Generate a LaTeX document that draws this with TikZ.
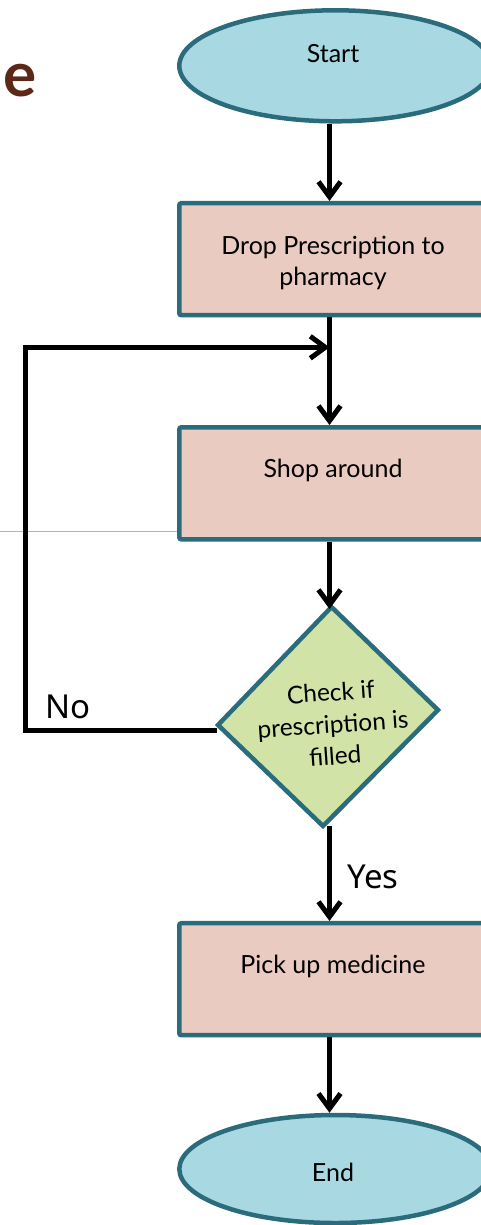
\documentclass[tikz,border=0pt]{standalone}
\usepackage{fontspec}
\setmainfont{Lato}
\newfontfamily\branchfont{Noto Sans}
\usetikzlibrary{arrows.meta,shapes.geometric}

\definecolor{edge}{HTML}{2A6B7C}
\definecolor{termfill}{HTML}{A8D8E2}
\definecolor{procfill}{HTML}{E9CBC1}
\definecolor{decfill}{HTML}{D1E3A7}
\definecolor{titlebrown}{HTML}{5C2818}
\definecolor{guide}{HTML}{8FBDEA}

\begin{document}
\begin{tikzpicture}[x=1pt,y=-1pt,
  terminal/.style={ellipse, draw=edge, fill=termfill, line width=4.5pt,
    minimum width=312pt, minimum height=111pt, inner sep=0pt},
  process/.style={rectangle, rounded corners=2pt, draw=edge, fill=procfill,
    line width=4.5pt, minimum width=312pt, minimum height=112pt, inner sep=0pt},
  decision/.style={draw=edge, fill=decfill, line width=4.5pt, line join=miter},
  txt/.style={font=\fontsize{25}{31.5}\selectfont, anchor=base, inner sep=0pt, align=center},
  branch/.style={font=\branchfont\fontsize{33}{36}\selectfont, anchor=base, inner sep=0pt},
  flow/.style={line width=5pt, -{Straight Barb[length=15pt,width=22pt]}}
]
\useasboundingbox (0,0) rectangle (481,1225);
\clip (0,0) rectangle (481,1225);

% thin guide line of the slide
\draw[guide, line width=1pt] (0,531) -- (180,531);

% heading fragment
\node[anchor=base west, inner sep=0pt, text=titlebrown,
  font=\bfseries\fontsize{62}{66}\selectfont] (title) at (3,97) {e};

% shapes (they run past the right edge and are clipped there)
\node[terminal] (start) at (335.3,65.8) {};
\node[process] (drop) at (335.3,259.2) {};
\node[process] (shop) at (335.3,483.3) {};
\node[process] (pick) at (335.3,979.2) {};
\node[terminal, minimum height=108pt] (end) at (335.3,1169) {};

\coordinate (dtop) at (331.5,607);
\coordinate (dright) at (438,710);
\coordinate (dbottom) at (323,826);
\coordinate (dleft) at (218,725);
\draw[decision] (dtop) -- (dright) -- (dbottom) -- (dleft) -- cycle;

% texts
\node[txt] (start-t) at (333,62.5) {Start};
\node[txt] (drop-t) at (333,285.7) {Drop Prescription to\\pharmacy};
\node[txt] (shop-t) at (333,477) {Shop around};
\node[txt, rotate=4, anchor=center, font=\fontsize{24.5}{32}\selectfont]
  (check-t) at (333,724) {Check if\\prescription is\\filled};
\node[txt] (pick-t) at (333,973.3) {Pick up medicine};
\node[txt] (end-t) at (333,1181.5) {End};

% vertical axis of the main flow, and the loop's points
\coordinate (axis) at (329.5,0);
\coordinate (merge) at (329.5,347.3);
\coordinate (loopcorner) at (25,730);
\coordinate (noexit) at (216.5,730);

% connectors
\draw[flow] (start.south -| axis) -- (drop.north -| axis);
\draw[line width=5pt] (drop.south -| axis) -- (merge);
\draw[flow] (merge) -- (shop.north -| axis);
\draw[flow] (shop.south -| axis) -- ([yshift=-2pt]dtop -| axis);
\draw[flow] (noexit) -- (loopcorner) |- (merge);
\draw[flow] (dbottom -| axis) -- (pick.north -| axis);
\draw[flow] (pick.south -| axis) -- (end.north -| axis);

% branch labels
\node[branch] (no) at (68,718) {No};
\node[branch] (yes) at (373,888) {Yes};
\end{tikzpicture}
\end{document}
